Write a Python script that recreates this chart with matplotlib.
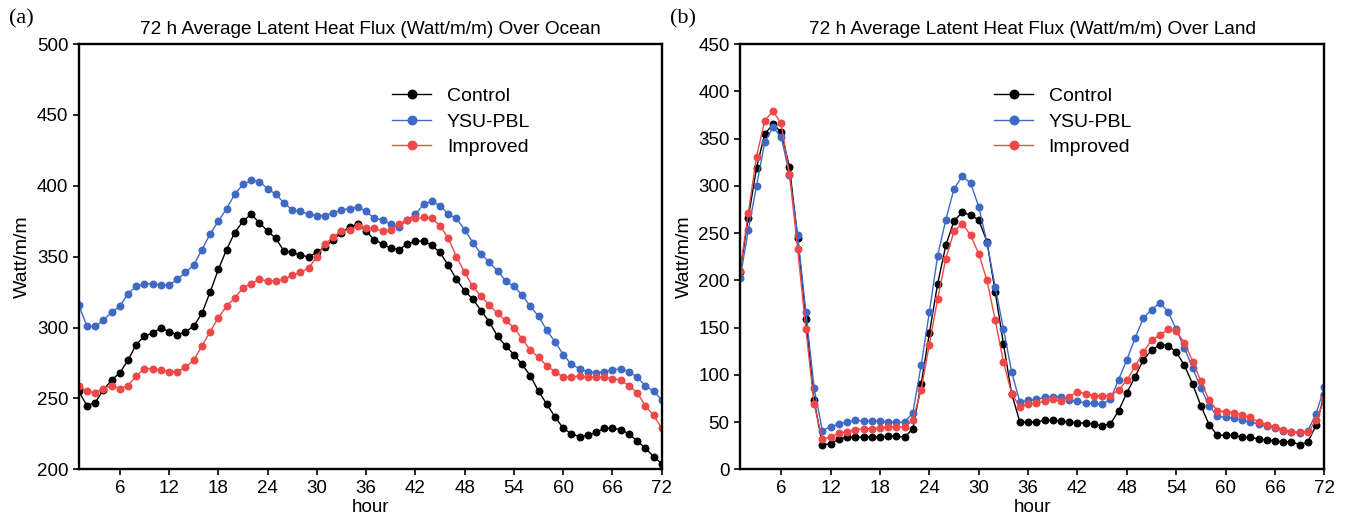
import numpy as np
import matplotlib
matplotlib.use('Agg')
import matplotlib.pyplot as plt

plt.rcParams['font.family'] = ['Liberation Sans', 'DejaVu Sans']

# hours 1..72
hours = np.arange(1, 73)

# Over ocean
ocean_control = [255, 245, 247, 256, 263, 268, 277, 288, 294, 296, 300, 297, 295, 297, 301, 310, 325, 341,
                 355, 367, 375, 380, 374, 368, 363, 354, 353, 351, 350, 353, 357, 362, 367, 371, 373, 368,
                 362, 359, 356, 355, 359, 361, 361, 358, 353, 344, 334, 326, 320, 312, 304, 294, 287, 281,
                 274, 266, 255, 246, 237, 229, 225, 223, 224, 226, 229, 229, 228, 225, 220, 215, 209, 204]
ocean_ysu = [316, 301, 301, 305, 311, 315, 324, 329, 331, 331, 330, 330, 334, 339, 344, 355, 366, 375,
             384, 394, 401, 404, 403, 398, 394, 388, 383, 382, 380, 379, 379, 381, 383, 384, 385, 382,
             377, 376, 373, 371, 376, 380, 387, 389, 386, 380, 377, 369, 360, 352, 346, 340, 333, 329,
             323, 315, 308, 298, 290, 281, 274, 271, 269, 268, 269, 270, 271, 269, 265, 259, 255, 249]
ocean_improved = [259, 255, 254, 257, 259, 257, 259, 266, 271, 271, 270, 269, 269, 272, 277, 287, 297, 307,
                  315, 321, 328, 331, 334, 333, 333, 334, 337, 339, 342, 350, 359, 364, 368, 369, 372, 370,
                  370, 368, 369, 373, 376, 377, 378, 377, 372, 363, 350, 339, 329, 322, 316, 310, 305, 300,
                  292, 284, 279, 273, 269, 265, 265, 266, 265, 265, 265, 264, 263, 259, 254, 245, 238, 229]

# Over land
land_control = [209, 266, 319, 355, 365, 357, 320, 245, 159, 73, 26, 27, 32, 34, 34, 34, 34, 34,
                35, 35, 34, 43, 90, 144, 196, 237, 263, 272, 269, 264, 241, 188, 133, 80, 50, 50,
                50, 52, 52, 51, 50, 49, 49, 48, 46, 48, 62, 81, 98, 116, 126, 132, 131, 124,
                110, 90, 67, 47, 36, 36, 36, 34, 34, 32, 31, 30, 29, 29, 26, 29, 47, 79]
land_ysu = [202, 253, 300, 346, 362, 352, 312, 248, 166, 86, 41, 45, 48, 50, 52, 51, 51, 51,
            50, 50, 50, 60, 110, 166, 226, 264, 297, 310, 303, 278, 240, 193, 149, 103, 71, 73,
            74, 76, 77, 77, 73, 72, 70, 70, 69, 74, 95, 116, 139, 160, 169, 176, 167, 148,
            128, 107, 86, 67, 56, 55, 54, 52, 50, 48, 46, 44, 41, 40, 38, 41, 59, 87]
land_improved = [210, 271, 331, 369, 379, 366, 313, 233, 148, 69, 32, 34, 38, 40, 42, 43, 43, 44,
                 45, 45, 45, 52, 84, 132, 180, 223, 252, 260, 248, 228, 200, 158, 114, 80, 66, 69,
                 70, 72, 74, 72, 77, 82, 80, 78, 78, 78, 84, 94, 109, 124, 137, 142, 148, 146,
                 134, 114, 93, 73, 62, 61, 60, 57, 55, 50, 47, 45, 42, 40, 39, 39, 52, 74]

labels = ['Control', 'YSU-PBL', 'Improved']
colors = ['#000000', '#3f6ac4', '#ee4848']

fig = plt.figure(figsize=(13.48, 5.16), dpi=100)
ax1 = fig.add_axes([0.0584, 0.0905, 0.4325, 0.824])
ax2 = fig.add_axes([0.549, 0.0905, 0.4335, 0.824])

panels = [
    (ax1, [ocean_control, ocean_ysu, ocean_improved], (200, 500), 'Over Ocean', 0.508),
    (ax2, [land_control, land_ysu, land_improved], (0, 450), 'Over Land', 0.405),
]

for ax, series, ylim, where, lx in panels:
    for vals, lab, col in zip(series, labels, colors):
        ax.plot(hours, vals, color=col, lw=1.0, marker='o', ms=4.7, mec=col, mfc=col, label=lab)
    ax.set_xlim(1, 72)
    ax.set_ylim(*ylim)
    ax.set_xticks(np.arange(6, 73, 6))
    ax.set_yticks(np.arange(ylim[0], ylim[1] + 1, 50))
    ax.tick_params(direction='out', length=4, width=1.2, labelsize=13.5)
    for s in ax.spines.values():
        s.set_linewidth(1.7)
    ax.set_xlabel('hour', fontsize=13.5, labelpad=2)
    ax.set_ylabel('Watt/m/m', fontsize=14, labelpad=4)
    ax.set_title('72 h Average Latent Heat Flux (Watt/m/m) ' + where, fontsize=13.7, pad=7)
    ax.legend(loc='upper left', bbox_to_anchor=(lx, 0.94), frameon=False, fontsize=14,
              handlelength=2.0, labelspacing=0.42, handletextpad=0.8, markerscale=1.3)

fig.text(0.007, 0.955, '(a)', family=['Liberation Serif', 'DejaVu Serif'], fontsize=16)
fig.text(0.497, 0.955, '(b)', family=['Liberation Serif', 'DejaVu Serif'], fontsize=16)

fig.savefig('out.png', dpi=100)
